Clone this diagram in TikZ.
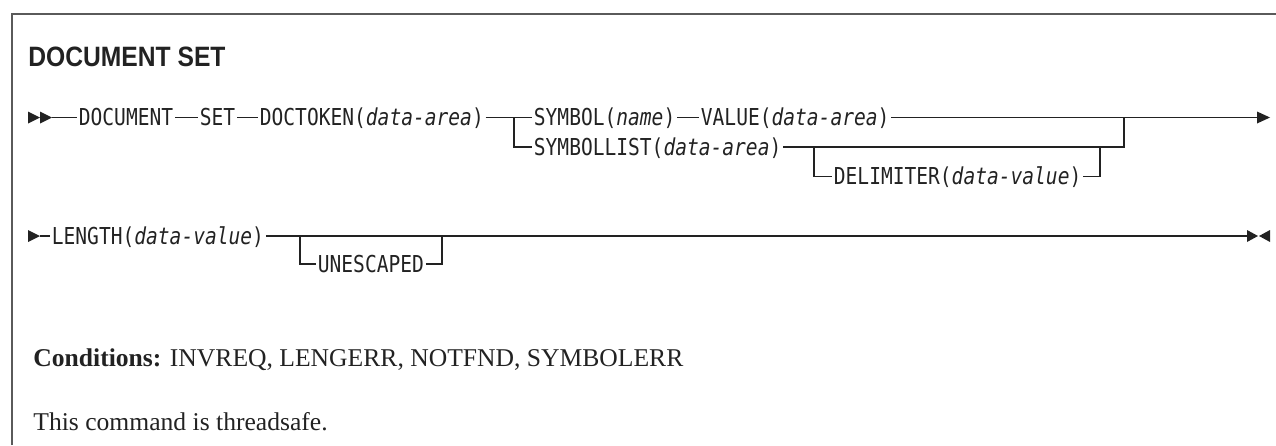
\documentclass[tikz,border=0pt]{standalone}
\usepackage{fontspec}
\setmainfont{Liberation Serif}
\newfontfamily\railfont[FakeStretch=0.84]{DejaVu Sans Mono}
\newfontfamily\headfont[FakeStretch=0.88]{Liberation Sans}
\usetikzlibrary{arrows.meta}
\definecolor{railink}{HTML}{222222}
\definecolor{framegray}{HTML}{5A5A5A}
\tikzset{
    railtext/.style={anchor=west, inner xsep=0.75pt, inner ysep=0pt, text height=8.2pt, text depth=0pt,
        font=\railfont\fontsize{11.65pt}{14pt}\selectfont, text=railink},
    railline/.style={draw=railink, line width=0.65pt},
    notetext/.style={anchor=base west, inner sep=0pt, font=\fontsize{12.8pt}{15pt}\selectfont, text=railink}
}

\begin{document}
\begin{tikzpicture}[x=0.5pt, y=-0.5pt]
    \useasboundingbox (0,0) rectangle (1276,445);
    \draw[framegray, line width=1pt] (12,445) -- (12,14) -- (1276,14);
    \node[anchor=base west, inner sep=0pt, font=\headfont\bfseries\fontsize{14pt}{16pt}\selectfont, text=railink] (title) at (28,66.5) {DOCUMENT SET};

    % first line of the diagram
    \fill[railink] (28,111.5) -- (40,117.5) -- (28,123.5) -- cycle;
    \fill[railink] (40,111.5) -- (52,117.5) -- (40,123.5) -- cycle;
    \coordinate (begin) at (52,117.5);
    \node[railtext] (doc) at (77,117.5) {DOCUMENT};
    \node[railtext] (set) at (198,117.5) {SET};
    \node[railtext] (tok) at (258,117.5) {DOCTOKEN(\textit{data-area})};
    \node[railtext] (sym) at (532,117.5) {SYMBOL(\textit{name})};
    \node[railtext] (val) at (699,117.5) {VALUE(\textit{data-area})};
    \node[railtext] (slist) at (532,147) {SYMBOLLIST(\textit{data-area})};
    \node[railtext] (delim) at (832,176.5) {DELIMITER(\textit{data-value})};

    \coordinate (split) at (514,117.5);
    \coordinate (join) at (1124,117.5);
    \coordinate (cont) at (1257,117.5);
    \coordinate (dsplit) at (814,147);
    \coordinate (djoin) at (1100,147);

    \path [railline](begin) edge (doc);
    \path [railline](doc) edge (set);
    \path [railline](set) edge (tok);
    \path [railline](tok) edge (sym);
    \path [railline](sym) edge (val);
    \path [railline](val) edge (cont);
    \draw [railline](split) |- (slist);
    \draw [railline](slist) -| (join);
    \draw [railline](dsplit) |- (delim);
    \draw [railline](delim) -| (djoin);
    \fill[railink] (1257,111.5) -- (1270,117.5) -- (1257,123.5) -- cycle;

    % second line of the diagram
    \fill[railink] (28,230) -- (40,236) -- (28,242) -- cycle;
    \coordinate (resume) at (40,236);
    \node[railtext] (len) at (50,236) {LENGTH(\textit{data-value})};
    \node[railtext] (unesc) at (316,264) {UNESCAPED};

    \coordinate (usplit) at (300,236);
    \coordinate (ujoin) at (442,236);
    \coordinate (stop) at (1247,236);

    \path [railline](resume) edge (len);
    \path [railline](len) edge (stop);
    \draw [railline](usplit) |- (unesc);
    \draw [railline](unesc) -| (ujoin);
    \fill[railink] (1247,230) -- (1258,236) -- (1247,242) -- cycle;
    \fill[railink] (1270,230) -- (1259,236) -- (1270,242) -- cycle;

    \node[notetext] (cond) at (33,366) {\textbf{Conditions:} INVREQ, LENGERR, NOTFND, SYMBOLERR};
    \node[notetext] (safe) at (33,430) {This command is threadsafe.};
\end{tikzpicture}
\end{document}
